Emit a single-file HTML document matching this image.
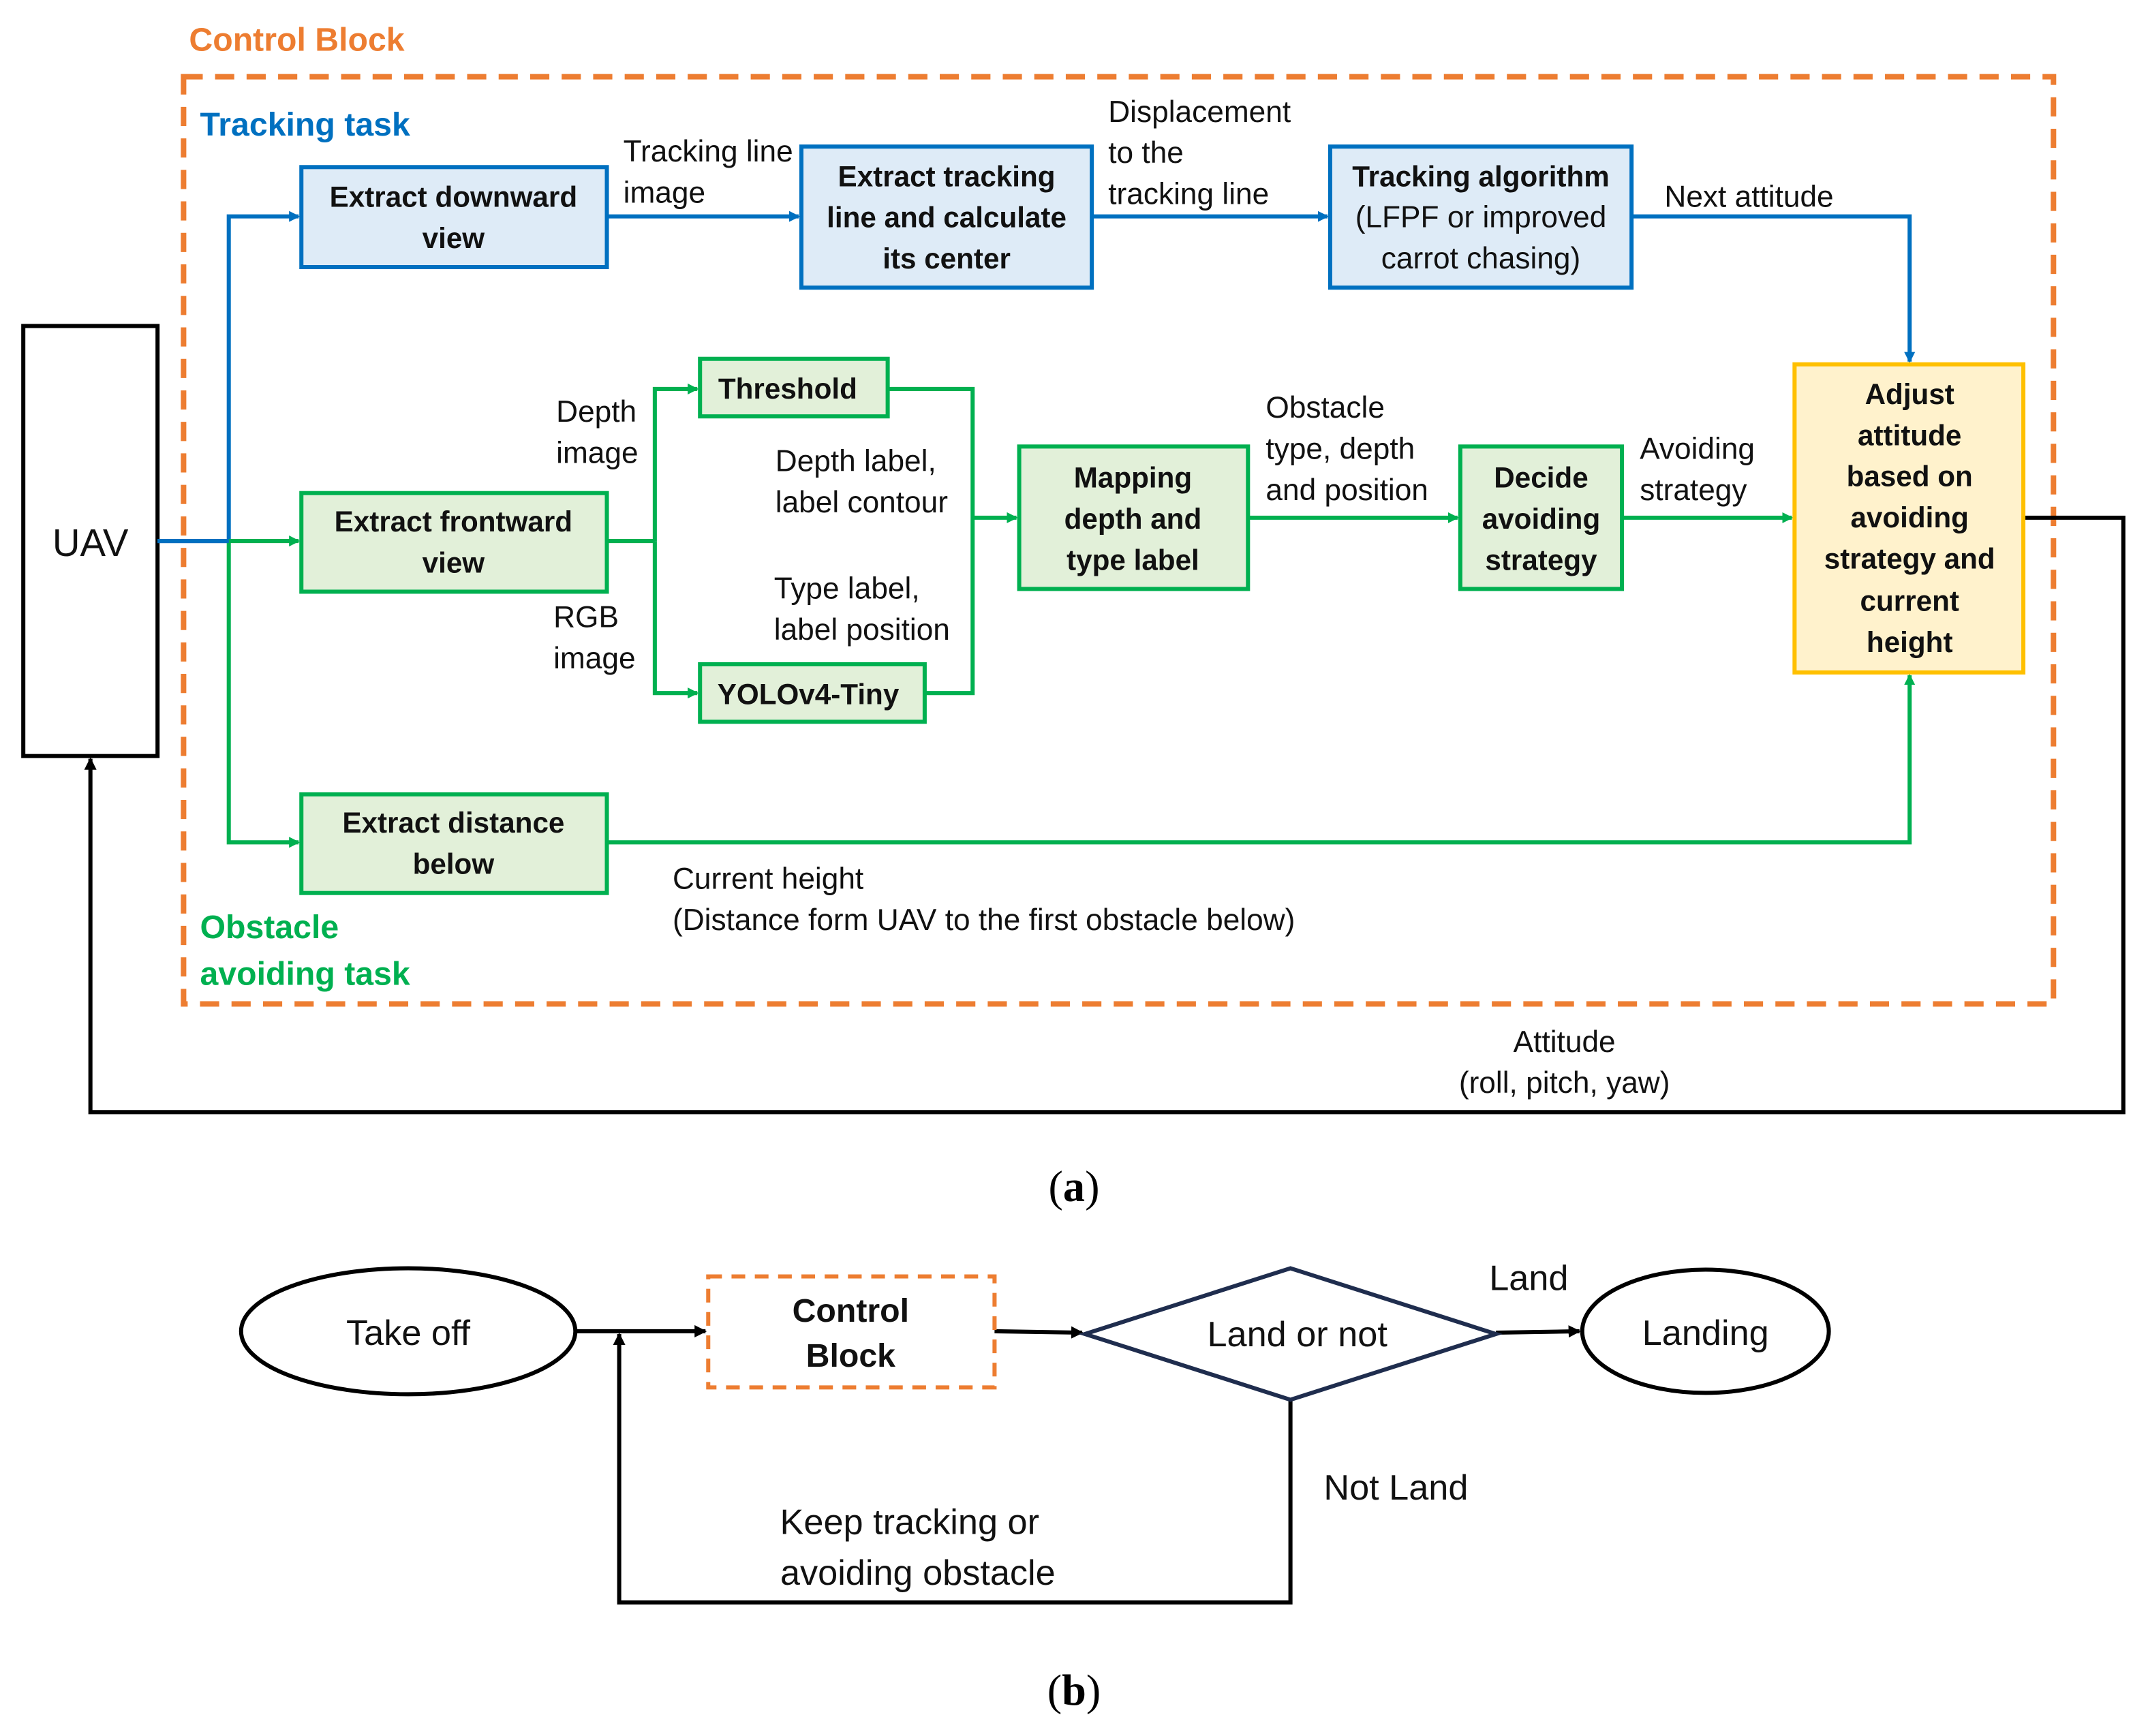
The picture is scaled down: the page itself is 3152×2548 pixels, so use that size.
<!DOCTYPE html>
<html><head><meta charset="utf-8"><style>
html,body{margin:0;padding:0;background:#fff}
svg{display:block}
text{font-family:"Liberation Sans","DejaVu Sans",sans-serif}
.l{font-size:22px;fill:#111}
.b{font-size:21px;font-weight:bold;fill:#111}
</style></head><body>
<svg width="3152" height="2548" viewBox="0 0 1568 1267.5" xmlns="http://www.w3.org/2000/svg">
<defs>
<marker id="ab" markerWidth="8" markerHeight="8" refX="7" refY="4" orient="auto" markerUnits="userSpaceOnUse"><path d="M0,0 L8,4 L0,8 z" fill="#0070C0"/></marker>
<marker id="ag" markerWidth="8" markerHeight="8" refX="7" refY="4" orient="auto" markerUnits="userSpaceOnUse"><path d="M0,0 L8,4 L0,8 z" fill="#00B050"/></marker>
<marker id="ak" markerWidth="9" markerHeight="9" refX="8" refY="4.5" orient="auto" markerUnits="userSpaceOnUse"><path d="M0,0 L9,4.5 L0,9 z" fill="#000"/></marker>
</defs>
<rect width="1568" height="1267.5" fill="#fff"/>
<text x="138" y="37" font-size="24" font-weight="bold" fill="#ED7D31">Control Block</text>
<rect x="134" y="56" width="1365" height="677" fill="none" stroke="#ED7D31" stroke-width="4" stroke-dasharray="14 9"/>
<text x="146" y="99" font-size="24" font-weight="bold" fill="#0070C0">Tracking task</text>
<text x="146" y="685" font-size="24" font-weight="bold" fill="#00B050">Obstacle</text>
<text x="146" y="719" font-size="24" font-weight="bold" fill="#00B050">avoiding task</text>

<rect x="17" y="238" width="98" height="314" fill="#fff" stroke="#000" stroke-width="3"/>
<text x="66" y="406" font-size="28" text-anchor="middle" fill="#111">UAV</text>

<g fill="none" stroke-width="3">
<polyline points="115,395 167,395 167,158 218,158" stroke="#0070C0" marker-end="url(#ab)"/>
<line x1="443" y1="158" x2="583" y2="158" stroke="#0070C0" marker-end="url(#ab)"/>
<line x1="797" y1="158" x2="969" y2="158" stroke="#0070C0" marker-end="url(#ab)"/>
<polyline points="1191,158 1394,158 1394,264" stroke="#0070C0" marker-end="url(#ab)"/>
<polyline points="167,395 218,395" stroke="#00B050" marker-end="url(#ag)"/>
<polyline points="167,396 167,615 218,615" stroke="#00B050" marker-end="url(#ag)"/>
<polyline points="443,395 478,395" stroke="#00B050"/>
<polyline points="478,395 478,284 509,284" stroke="#00B050" marker-end="url(#ag)"/>
<polyline points="478,395 478,506 509,506" stroke="#00B050" marker-end="url(#ag)"/>
<polyline points="648,284 710,284 710,506 675,506" stroke="#00B050"/>
<line x1="710" y1="378" x2="742" y2="378" stroke="#00B050" marker-end="url(#ag)"/>
<line x1="911" y1="378" x2="1064" y2="378" stroke="#00B050" marker-end="url(#ag)"/>
<line x1="1184" y1="378" x2="1308" y2="378" stroke="#00B050" marker-end="url(#ag)"/>
<polyline points="443,615 1394,615 1394,493" stroke="#00B050" marker-end="url(#ag)"/>
<polyline points="1477,378 1550,378 1550,812 66,812 66,554" stroke="#000" marker-end="url(#ak)"/>
<line x1="115" y1="395" x2="167" y2="395" stroke="#0070C0"/>
</g>

<g stroke-width="3">
<rect x="220" y="122" width="223" height="73" fill="#DEEBF7" stroke="#0070C0"/>
<rect x="585" y="107" width="212" height="103" fill="#DEEBF7" stroke="#0070C0"/>
<rect x="971" y="107" width="220" height="103" fill="#DEEBF7" stroke="#0070C0"/>
<rect x="511" y="262" width="137" height="42" fill="#E2F0D9" stroke="#00B050"/>
<rect x="220" y="360" width="223" height="72" fill="#E2F0D9" stroke="#00B050"/>
<rect x="511" y="485" width="164" height="42" fill="#E2F0D9" stroke="#00B050"/>
<rect x="744" y="326" width="167" height="104" fill="#E2F0D9" stroke="#00B050"/>
<rect x="1066" y="326" width="118" height="104" fill="#E2F0D9" stroke="#00B050"/>
<rect x="220" y="580" width="223" height="72" fill="#E2F0D9" stroke="#00B050"/>
<rect x="1310" y="266" width="167" height="225" fill="#FFF2CC" stroke="#FFC000"/>
</g>

<g class="b" text-anchor="middle">
<text x="331" y="151">Extract downward</text><text x="331" y="181">view</text>
<text x="691" y="136">Extract tracking</text><text x="691" y="166">line and calculate</text><text x="691" y="196">its center</text>
<text x="331" y="388">Extract frontward</text><text x="331" y="418">view</text>
<text x="575" y="291">Threshold</text>
<text x="590" y="514">YOLOv4-Tiny</text>
<text x="827" y="356">Mapping</text><text x="827" y="386">depth and</text><text x="827" y="416">type label</text>
<text x="1125" y="356">Decide</text><text x="1125" y="386">avoiding</text><text x="1125" y="416">strategy</text>
<text x="331" y="608">Extract distance</text><text x="331" y="638">below</text>
<text x="1394" y="295">Adjust</text><text x="1394" y="325">attitude</text><text x="1394" y="355">based on</text><text x="1394" y="385">avoiding</text><text x="1394" y="415">strategy and</text><text x="1394" y="446">current</text><text x="1394" y="476">height</text>
</g>
<g class="l" text-anchor="middle">
<text x="1081" y="136" font-weight="bold" font-size="21">Tracking algorithm</text><text x="1081" y="166">(LFPF or improved</text><text x="1081" y="196">carrot chasing)</text>
</g>
<g class="l">
<text x="455" y="118">Tracking line</text><text x="455" y="148">image</text>
<text x="809" y="89">Displacement</text><text x="809" y="119">to the</text><text x="809" y="149">tracking line</text>
<text x="1215" y="151">Next attitude</text>
<text x="406" y="308">Depth</text><text x="406" y="338">image</text>
<text x="404" y="458">RGB</text><text x="404" y="488">image</text>
<text x="566" y="344">Depth label,</text><text x="566" y="374">label contour</text>
<text x="565" y="437">Type label,</text><text x="565" y="467">label position</text>
<text x="924" y="305">Obstacle</text><text x="924" y="335">type, depth</text><text x="924" y="365">and position</text>
<text x="1197" y="335">Avoiding</text><text x="1197" y="365">strategy</text>
<text x="491" y="649">Current height</text><text x="491" y="679">(Distance form UAV to the first obstacle below)</text>
<text x="1142" y="768" text-anchor="middle">Attitude</text><text x="1142" y="798" text-anchor="middle">(roll, pitch, yaw)</text>
</g>
<text x="784" y="877" text-anchor="middle" font-size="32" style="font-family:'Liberation Serif',serif">(<tspan font-weight="bold">a</tspan>)</text>

<g fill="none" stroke="#000" stroke-width="3">
<ellipse cx="298" cy="972" rx="122" ry="46"/>
<ellipse cx="1245" cy="972" rx="90" ry="45"/>
<line x1="420" y1="972" x2="515" y2="972" marker-end="url(#ak)"/>
<line x1="726" y1="972" x2="790" y2="973" marker-end="url(#ak)"/>
<line x1="1092" y1="973" x2="1153" y2="972" marker-end="url(#ak)"/>
<polyline points="942,1022 942,1170 452,1170 452,974" marker-end="url(#ak)"/>
</g>
<rect x="517" y="932" width="209" height="81" fill="none" stroke="#ED7D31" stroke-width="3" stroke-dasharray="10 7"/>
<polygon points="792,974 942,926 1092,974 942,1022" fill="#fff" stroke="#1F2D4E" stroke-width="3"/>
<g text-anchor="middle" font-size="26" fill="#111">
<text x="298" y="982">Take off</text>
<text x="621" y="965" font-weight="bold" font-size="24">Control</text>
<text x="621" y="998" font-weight="bold" font-size="24">Block</text>
<text x="947" y="983">Land or not</text>
<text x="1245" y="982">Landing</text>
<text x="1116" y="942">Land</text>
<text x="1019" y="1095">Not Land</text>
<text x="664" y="1120">Keep tracking or</text>
<text x="670" y="1157">avoiding obstacle</text>
</g>
<text x="784" y="1245" text-anchor="middle" font-size="32" style="font-family:'Liberation Serif',serif">(<tspan font-weight="bold">b</tspan>)</text>
</svg>
</body></html>
